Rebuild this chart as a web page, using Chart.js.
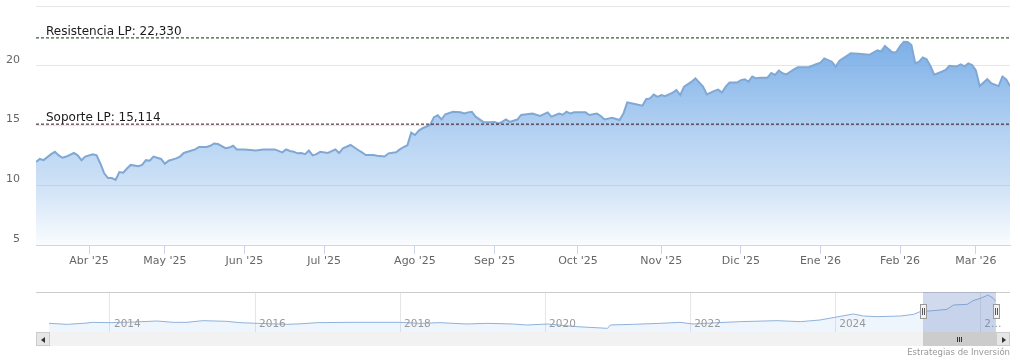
<!DOCTYPE html>
<html lang="es">
<head>
<meta charset="utf-8">
<title>Cotización</title>
<script src="https://cdn.jsdelivr.net/npm/chart.js@4/dist/chart.umd.min.js"></script>
<style>
  html, body { margin: 0; padding: 0; background: #fff; overflow: hidden; }
  #wrap { position: relative; width: 1020px; height: 361px; font-family: "DejaVu Sans", sans-serif; }
  canvas { position: absolute; left: 0; }
  #main { top: 0; }
  #nav { top: 291px; }
  .abs { position: absolute; box-sizing: border-box; }
  #track { left: 36px; top: 332px; width: 974px; height: 14px; background: #f2f2f2; }
  .btn { top: 332px; width: 14px; height: 14px; background: #e6e6e6; border: 1px solid #cccccc; }
  #btnL { left: 36px; }
  #btnR { left: 996px; }
  .tri { position: absolute; top: 4px; width: 0; height: 0; border-top: 3px solid transparent; border-bottom: 3px solid transparent; }
  #btnL .tri { left: 4px; border-right: 4px solid #333; }
  #btnR .tri { left: 5px; border-left: 4px solid #333; }
  #thumb { left: 923px; top: 332px; width: 73px; height: 14px; background: #cccccc; }
  .grip { position: absolute; top: 5px; width: 1px; height: 5px; background: #333; }
  #mask { left: 923px; top: 292px; width: 73px; height: 40px; background: rgba(102,133,194,0.3); }
  .handle { top: 304px; width: 7px; height: 15px; background: #f2f2f2; border: 1px solid #999; }
  .handle i { position: absolute; top: 3px; width: 1px; height: 7px; background: #555; }
  #credits { right: 10px; top: 347px; font-size: 8.5px; color: #999; white-space: nowrap; }
</style>
</head>
<body>
<div id="wrap">
  <canvas id="main" width="1020" height="280"></canvas>
  <canvas id="nav" width="1020" height="42"></canvas>
  <div id="mask" class="abs"></div>
  <div id="track" class="abs"></div>
  <div id="thumb" class="abs">
    <span class="grip" style="left:34px"></span><span class="grip" style="left:36px"></span><span class="grip" style="left:38px"></span>
  </div>
  <div id="btnL" class="abs btn"><span class="tri"></span></div>
  <div id="btnR" class="abs btn"><span class="tri"></span></div>
  <div class="abs handle" style="left:920px"><i style="left:1px"></i><i style="left:3px"></i></div>
  <div class="abs handle" style="left:993px"><i style="left:1px"></i><i style="left:3px"></i></div>
  <div id="credits" class="abs">Estrategias de Inversión</div>
</div>
<script>
// ---------- DATA ----------
// trading-day index (0 = first session shown, mid March 2025)
const dayIndex = [0,1,2,4,5,6,7,8,10,11,12,13,15,16,17,18,19,20,21,22,23,24,25,27,28,29,30,31,33,34,35,37,38,39,40,42,43,45,46,47,48,50,51,52,53,55,58,60,63,65,66,67,68,69,70,71,72,73,74,75,77,79,80,81,83,85,86,87,89,90,92,93,95,96,97,98,99,100,101,102,104,105,106,107,108,110,112,113,114,115,116,118,120,121,122,123,124,125,127,128,130,131,133,135,136,138,139,140,141,142,145,146,148,149,150,152,154,155,156,158,160,161,162,163,164,165,166,168,169,170,171,173,174,176,177,179,180,181,182,183,185,186,187,188,189,190,191,193,194,195,196,197,198,200,201,204,206,207,208,210,211,212,215,217,220,222,223,224,226,227,228,229,230,231,232,233,234,235,236,237,239,240,241,242,243,244,245,246,247,248,249,251,252,254,255,256,257];
const closePrice = [11.95,12.2,12.1,12.6,12.8,12.5,12.3,12.4,12.7,12.5,12.1,12.4,12.6,12.5,11.8,11.0,10.6,10.6,10.45,11.1,11.05,11.4,11.7,11.6,11.7,12.1,12.05,12.4,12.2,11.8,12.05,12.25,12.4,12.7,12.8,13.0,13.2,13.2,13.3,13.5,13.45,13.1,13.15,13.3,13.0,13.0,12.9,13.0,13.0,12.75,13.0,12.87,12.8,12.67,12.7,12.6,12.9,12.5,12.6,12.8,12.7,13.0,12.7,13.1,13.37,12.95,12.76,12.53,12.53,12.47,12.4,12.67,12.76,13.0,13.2,13.35,14.4,14.2,14.57,14.77,15.04,15.7,15.85,15.5,15.94,16.15,16.1,16.0,16.1,16.15,15.74,15.3,15.27,15.3,15.18,15.3,15.5,15.3,15.5,15.88,15.96,16.0,15.8,16.1,15.74,16.0,15.9,16.15,16.0,16.1,16.1,15.88,16.0,15.8,15.5,15.65,15.46,16.0,16.94,16.8,16.66,17.2,17.27,17.6,17.4,17.55,17.45,17.75,17.97,17.55,18.25,18.67,18.95,18.25,17.6,17.9,18.0,17.75,18.25,18.6,18.6,18.8,18.87,18.67,19.1,18.95,19.0,19.0,19.4,19.23,19.6,19.37,19.28,19.7,19.87,19.9,20.15,20.26,20.62,20.34,19.92,20.42,21.04,21.0,20.93,21.3,21.2,21.65,21.1,21.15,21.65,22.0,21.98,21.74,20.2,20.35,20.7,20.54,19.98,19.25,19.5,19.65,20.0,19.95,19.95,20.12,19.95,20.2,20.05,19.6,18.3,18.87,18.55,18.3,19.1,18.85,18.3];

const monthTickIndex = [14,34,55,76,100,121,143,165,186,207,228,248];
const monthTickLabels = ["Abr '25","May '25","Jun '25","Jul '25","Ago '25","Sep '25","Oct '25","Nov '25","Dic '25","Ene '26","Feb '26","Mar '26"];
const yTickValues = [5,10,15,20,25];

const resistenciaLP = 22.330;
const soporteLP = 15.114;

// navigator (full history, fractional year)
const navYears  = [2013.16,2013.41,2013.63,2013.77,2014.0,2014.32,2014.65,2014.87,2015.06,2015.28,2015.61,2015.79,2016.03,2016.44,2016.62,2016.86,2017.31,2017.63,2018.0,2018.28,2018.55,2018.92,2019.2,2019.56,2019.75,2020.03,2020.44,2020.86,2020.9,2021.21,2021.59,2021.86,2022.04,2022.37,2022.69,2023.2,2023.52,2023.79,2023.97,2024.25,2024.39,2024.58,2024.9,2025.08,2025.17,2025.35,2025.54,2025.63,2025.82,2025.9,2026.0,2026.11,2026.18,2026.21];
const navValues = [5.2,4.6,5.2,5.8,5.6,6.0,6.6,5.8,5.8,6.8,6.4,5.6,5.2,4.6,4.9,5.6,5.8,5.8,5.8,5.2,5.6,4.8,5.2,4.8,4.2,4.8,3.2,2.2,4.2,4.6,5.2,5.8,4.8,5.6,6.2,6.8,6.2,7.2,8.6,10.8,9.6,9.2,9.6,10.6,12.2,12.8,13.6,16.2,16.6,18.8,20.2,22.2,20.2,18.5];
const navYearTicks  = [2014,2016,2018,2020,2022,2024,2026];
const navYearLabels = ['2014','2016','2018','2020','2022','2024','2…'];

// ---------- CHARTS ----------
Chart.defaults.font.family = '"DejaVu Sans", sans-serif';
Chart.defaults.animation = false;

const fmtES = v => v.toFixed(3).replace('.', ',');
const plotLines = [
  { label: 'Resistencia LP: ' + fmtES(resistenciaLP), value: resistenciaLP, color: '#0e300e' },
  { label: 'Soporte LP: ' + fmtES(soporteLP), value: soporteLP, color: '#3a0814' }
];

const plotLineLabels = {
  id: 'plotLineLabels',
  afterDatasetsDraw(chart) {
    const { ctx, chartArea, scales } = chart;
    ctx.save();
    ctx.font = '12px "DejaVu Sans"';
    ctx.fillStyle = '#1a1a1a';
    ctx.textAlign = 'left';
    ctx.textBaseline = 'alphabetic';
    plotLines.forEach(pl => {
      const py = scales.y.getPixelForValue(pl.value);
      ctx.fillText(pl.label, chartArea.left + 10, py - 3);
    });
    ctx.restore();
  }
};

// year labels of the navigator axis, drawn inside its plot band
const navAxisLabels = {
  id: 'navAxisLabels',
  afterDatasetsDraw(chart) {
    const { ctx, chartArea, scales } = chart;
    ctx.save();
    ctx.font = '10.5px "DejaVu Sans"';
    ctx.fillStyle = '#999';
    ctx.textAlign = 'left';
    ctx.textBaseline = 'middle';
    navYearTicks.forEach((v, i) => {
      ctx.fillText(navYearLabels[i], scales.x.getPixelForValue(v) + 4, chartArea.bottom - 8);
    });
    ctx.restore();
  }
};

function areaGradient(context) {
  const { chart } = context;
  const area = chart.chartArea;
  if (!area) return 'rgba(124,176,232,0.5)';
  const g = chart.ctx.createLinearGradient(0, area.top, 0, area.bottom);
  g.addColorStop(0, 'rgba(120,172,230,1)');
  g.addColorStop(0.15, 'rgba(122,174,231,0.98)');
  g.addColorStop(0.5, 'rgba(124,176,232,0.6)');
  g.addColorStop(0.75, 'rgba(124,176,232,0.37)');
  g.addColorStop(1, 'rgba(124,176,232,0.04)');
  return g;
}

const xMin = 0, xMax = 257;

new Chart(document.getElementById('main'), {
  type: 'line',
  data: {
    datasets: [
      ...plotLines.map(pl => ({
        label: pl.label,
        data: [{ x: xMin, y: pl.value }, { x: xMax, y: pl.value }],
        borderColor: pl.color,
        borderWidth: 1,
        borderDash: [3, 2],
        pointRadius: 0,
        fill: false,
        order: 0
      })),
      {
        label: 'Cotización',
        data: dayIndex.map((d, i) => ({ x: d, y: closePrice[i] })),
        borderColor: '#80a8d4',
        borderWidth: 2,
        pointRadius: 0,
        tension: 0,
        fill: 'start',
        backgroundColor: areaGradient,
        order: 1
      }
    ]
  },
  options: {
    responsive: false,
    devicePixelRatio: 1,
    layout: { padding: { left: 0, right: 10, top: 6, bottom: 0 } },
    plugins: { legend: { display: false }, tooltip: { enabled: false } },
    scales: {
      x: {
        type: 'linear',
        min: xMin, max: xMax,
        afterBuildTicks: s => { s.ticks = monthTickIndex.map(v => ({ value: v })); },
        afterFit: s => { s.height = 35; s.paddingLeft = 0; s.paddingRight = 0; },
        grid: { drawOnChartArea: false, drawTicks: true, tickLength: 9, color: '#ccd6eb' },
        border: { display: true, color: '#ccd6eb' },
        ticks: {
          autoSkip: false, maxRotation: 0, padding: 1, color: '#666',
          font: { size: 11 },
          callback: (v, i) => monthTickLabels[i]
        }
      },
      y: {
        min: 5, max: 25,
        afterBuildTicks: s => { s.ticks = yTickValues.map(v => ({ value: v })); },
        afterFit: s => { s.width = 36; s.paddingTop = 0; s.paddingBottom = 0; },
        grid: { color: '#e6e6e6', drawTicks: false },
        border: { display: false },
        ticks: {
          padding: 16, color: '#666',
          font: { size: 11, lineHeight: 1.1 },
          callback: v => v === 25 ? '' : [String(v), '']
        }
      }
    }
  },
  plugins: [plotLineLabels]
});

const navMin = 2012.98, navMax = 2026.41;
new Chart(document.getElementById('nav'), {
  type: 'line',
  data: {
    datasets: [{
      label: 'Navegador',
      data: navYears.map((x, i) => ({ x, y: navValues[i] })),
      borderColor: '#8fb1da',
      borderWidth: 1,
      pointRadius: 0,
      fill: 'start',
      backgroundColor: 'rgba(124,176,232,0.12)'
    }]
  },
  options: {
    responsive: false,
    devicePixelRatio: 1,
    layout: { padding: { left: 36, right: 10, top: 1, bottom: 1 } },
    plugins: { legend: { display: false }, tooltip: { enabled: false } },
    scales: {
      x: {
        type: 'linear', min: navMin, max: navMax,
        afterBuildTicks: s => { s.ticks = navYearTicks.map(v => ({ value: v })); },
        afterFit: s => { s.height = 0; s.paddingLeft = 0; s.paddingRight = 0; },
        grid: { color: '#e6e6e6', drawTicks: false },
        border: { display: false },
        ticks: { display: false }
      },
      y: {
        min: 0, max: 24,
        afterBuildTicks: s => { s.ticks = [{ value: 24 }]; },
        afterFit: s => { s.width = 0; s.paddingTop = 0; s.paddingBottom = 0; },
        grid: { color: '#cccccc', drawTicks: false },
        border: { display: false },
        ticks: { display: false }
      }
    }
  },
  plugins: [navAxisLabels]
});
</script>
</body>
</html>
